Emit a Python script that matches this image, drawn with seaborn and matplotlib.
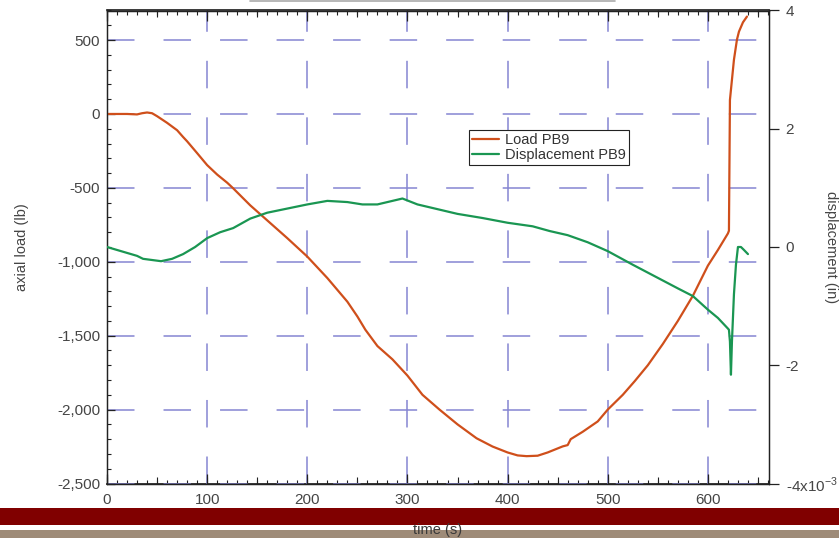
import matplotlib
matplotlib.use("Agg")
import matplotlib.pyplot as plt
import seaborn as sns
import pandas as pd
from matplotlib.patches import Rectangle
from matplotlib.lines import Line2D
from matplotlib.ticker import MultipleLocator, FixedLocator, FixedFormatter

# ---------------- data ----------------
load_time = [0, 10, 20, 30, 35, 40, 45, 50, 60, 70, 76, 80, 90, 100, 110, 120, 126, 143,
             160, 180, 200, 220, 240, 250, 258, 270, 285, 300, 315, 332, 350, 369, 385,
             400, 410, 419, 430, 440, 455, 460, 463, 475, 490, 500, 515, 527, 540, 555,
             570, 585, 600, 610, 620, 621, 622, 626, 629, 631, 635, 639]
load_lb = [0, 0, 0, -3, 5, 10, 5, -15, -60, -110, -156, -185, -265, -346, -410, -465, -503, -618,
           -720, -840, -965, -1110, -1270, -1370, -1460, -1570, -1660, -1770, -1900, -2000, -2100, -2194, -2250,
           -2290, -2310, -2315, -2312, -2290, -2249, -2240, -2200, -2150, -2080, -2000, -1900, -1807, -1700, -1556,
           -1400, -1230, -1026, -920, -808, -790, 95, 367, 503, 557, 620, 659]

disp_time = [0, 10, 20, 30, 36, 45, 54, 65, 76, 88, 100, 113, 126, 143, 160, 180, 200, 220,
             240, 255, 270, 285, 295, 310, 330, 350, 375, 400, 425, 442, 460, 480, 500, 525,
             552, 570, 585, 600, 610, 620, 621, 622, 623, 624, 626, 628, 630, 633, 636, 640]
disp_milli_in = [0.0, -0.05, -0.1, -0.15, -0.2, -0.22, -0.24, -0.2, -0.12, 0.0, 0.15, 0.25, 0.32, 0.48,
                 0.58, 0.65, 0.72, 0.78, 0.76, 0.72, 0.72, 0.78, 0.82, 0.72, 0.64, 0.56, 0.49, 0.41,
                 0.35, 0.27, 0.2, 0.08, -0.07, -0.3, -0.54, -0.7, -0.83, -1.06, -1.2, -1.38, -1.4,
                 -1.6, -2.16, -1.6, -0.8, -0.3, 0.0, 0.0, -0.05, -0.12]

left_ticks = [500, 0, -500, -1000, -1500, -2000, -2500]
right_ticks = [4, 2, 0, -2, -4]
right_labels = ["4", "2", "0", "-2", "-4x10$^{\\mathregular{-3}}$"]
x_ticks = [0, 100, 200, 300, 400, 500, 600]

series_names = ["Load PB9", "Displacement PB9"]
colors = ["#cf4f1b", "#1a9652"]

load_df = pd.DataFrame({"time": load_time, "load": load_lb})
disp_df = pd.DataFrame({"time": disp_time, "disp": disp_milli_in})

# ---------------- style ----------------
sns.set_theme(style="white")
plt.rcParams["font.family"] = ["Liberation Sans", "DejaVu Sans"]
plt.rcParams["axes.unicode_minus"] = False
plt.rcParams["mathtext.fontset"] = "custom"
plt.rcParams["mathtext.rm"] = "Liberation Sans"

W, H = 839, 538
fig = plt.figure(figsize=(W / 100, H / 100), dpi=100)
fig.patch.set_facecolor("white")
left, right, top, bottom = 107, 769, 10.5, 483.5
ax = fig.add_axes([left / W, 1 - bottom / H, (right - left) / W, (bottom - top) / H])
ax2 = ax.twinx()

txt_col = "#454545"
grid_col = "#8585d2"
tick_fs = 11
lab_fs = 10.5

# lines
sns.lineplot(data=load_df, x="time", y="load", ax=ax, color=colors[0], lw=1.6,
             estimator=None, sort=False, legend=False, zorder=3)
sns.lineplot(data=disp_df, x="time", y="disp", ax=ax2, color=colors[1], lw=1.6,
             estimator=None, sort=False, legend=False, zorder=3)

ax.set_xlim(0, 661)
ax.set_ylim(-2500, 700)
ax2.set_ylim(-4, 4)

# grid
ax.set_axisbelow(True)
ax.xaxis.set_major_locator(FixedLocator(x_ticks))
ax.yaxis.set_major_locator(FixedLocator(left_ticks))
ax.grid(True, which="major", color=grid_col, lw=1.1, linestyle=(0, (18, 19)))
ax2.grid(False)

# ticks
ax.xaxis.set_minor_locator(MultipleLocator(10))
ax.yaxis.set_minor_locator(MultipleLocator(100))
ax.yaxis.set_major_formatter(matplotlib.ticker.StrMethodFormatter("{x:,.0f}"))
ax.tick_params(axis="x", which="major", direction="in", length=7, width=0.9, color="#222",
               top=True, bottom=True, labelsize=tick_fs, labelcolor=txt_col, pad=7)
ax.tick_params(axis="x", which="minor", direction="in", length=3, width=0.8, color="#222",
               top=True, bottom=True)
ax.tick_params(axis="y", which="major", direction="in", length=6, width=0.9, color="#222",
               left=True, right=False, labelsize=tick_fs, labelcolor=txt_col, pad=5)
ax.tick_params(axis="y", which="minor", direction="in", length=3, width=0.8, color="#222",
               left=True, right=False)

# medium ticks at 50s
for loc in ("bottom", "top"):
    sec = ax.secondary_xaxis(loc)
    sec.xaxis.set_major_locator(MultipleLocator(50))
    sec.tick_params(axis="x", direction="in", length=5, width=0.8, color="#222",
                    labelbottom=False, labeltop=False)
    sec.spines[loc].set_color("#222")

ax2.yaxis.set_major_locator(FixedLocator(right_ticks))
ax2.yaxis.set_major_formatter(FixedFormatter(right_labels))
ax2.yaxis.set_minor_locator(matplotlib.ticker.NullLocator())
ax2.tick_params(axis="y", direction="out", length=7, width=0.9, color="#222",
                right=True, labelsize=tick_fs, labelcolor=txt_col, pad=5)

for a in (ax, ax2):
    for s in a.spines.values():
        s.set_color("#222")
        s.set_linewidth(0.9)

# labels
ax.set_xlabel("time (s)", fontsize=lab_fs, color="#3a3a3a")
ax.xaxis.set_label_coords(0.5, -0.098)
ax.xaxis.label.set_va("center")
ax.set_ylabel("axial load (lb)", fontsize=lab_fs, color=txt_col)
ax.yaxis.set_label_coords(-0.128, 0.5)
ax.yaxis.label.set_va("center")
ax2.set_ylabel("displacement (in)", fontsize=lab_fs, color=txt_col, rotation=270)
ax2.yaxis.set_label_coords(1.094, 0.5)
ax2.yaxis.label.set_va("center")

# legend
handles = [Line2D([], [], color=colors[0], lw=1.6), Line2D([], [], color=colors[1], lw=1.6)]
leg = ax2.legend(handles, series_names, loc="upper left", bbox_to_anchor=(0.547, 0.747),
                 borderaxespad=0, fontsize=10.5, frameon=True, fancybox=False, framealpha=1,
                 edgecolor="#222", borderpad=0.2, labelspacing=0.05, handletextpad=0.4,
                 handlelength=1.85)
leg.get_frame().set_linewidth(0.8)
for t in leg.get_texts():
    t.set_color("#333")

# decorative bands and top line
fig.patches.append(Rectangle((0, 1 - 525 / H), 1, 17 / H, transform=fig.transFigure,
                             facecolor="#800000", edgecolor="none", zorder=-5))
fig.patches.append(Rectangle((0, 0), 1, 8 / H, transform=fig.transFigure,
                             facecolor="#9e8b78", edgecolor="none", zorder=-5))
fig.add_artist(Line2D([250 / W, 615 / W], [1 - 0.8 / H, 1 - 0.8 / H], transform=fig.transFigure,
                      color="#aaaaaa", lw=1.2))

fig.savefig("out.png", dpi=100)
